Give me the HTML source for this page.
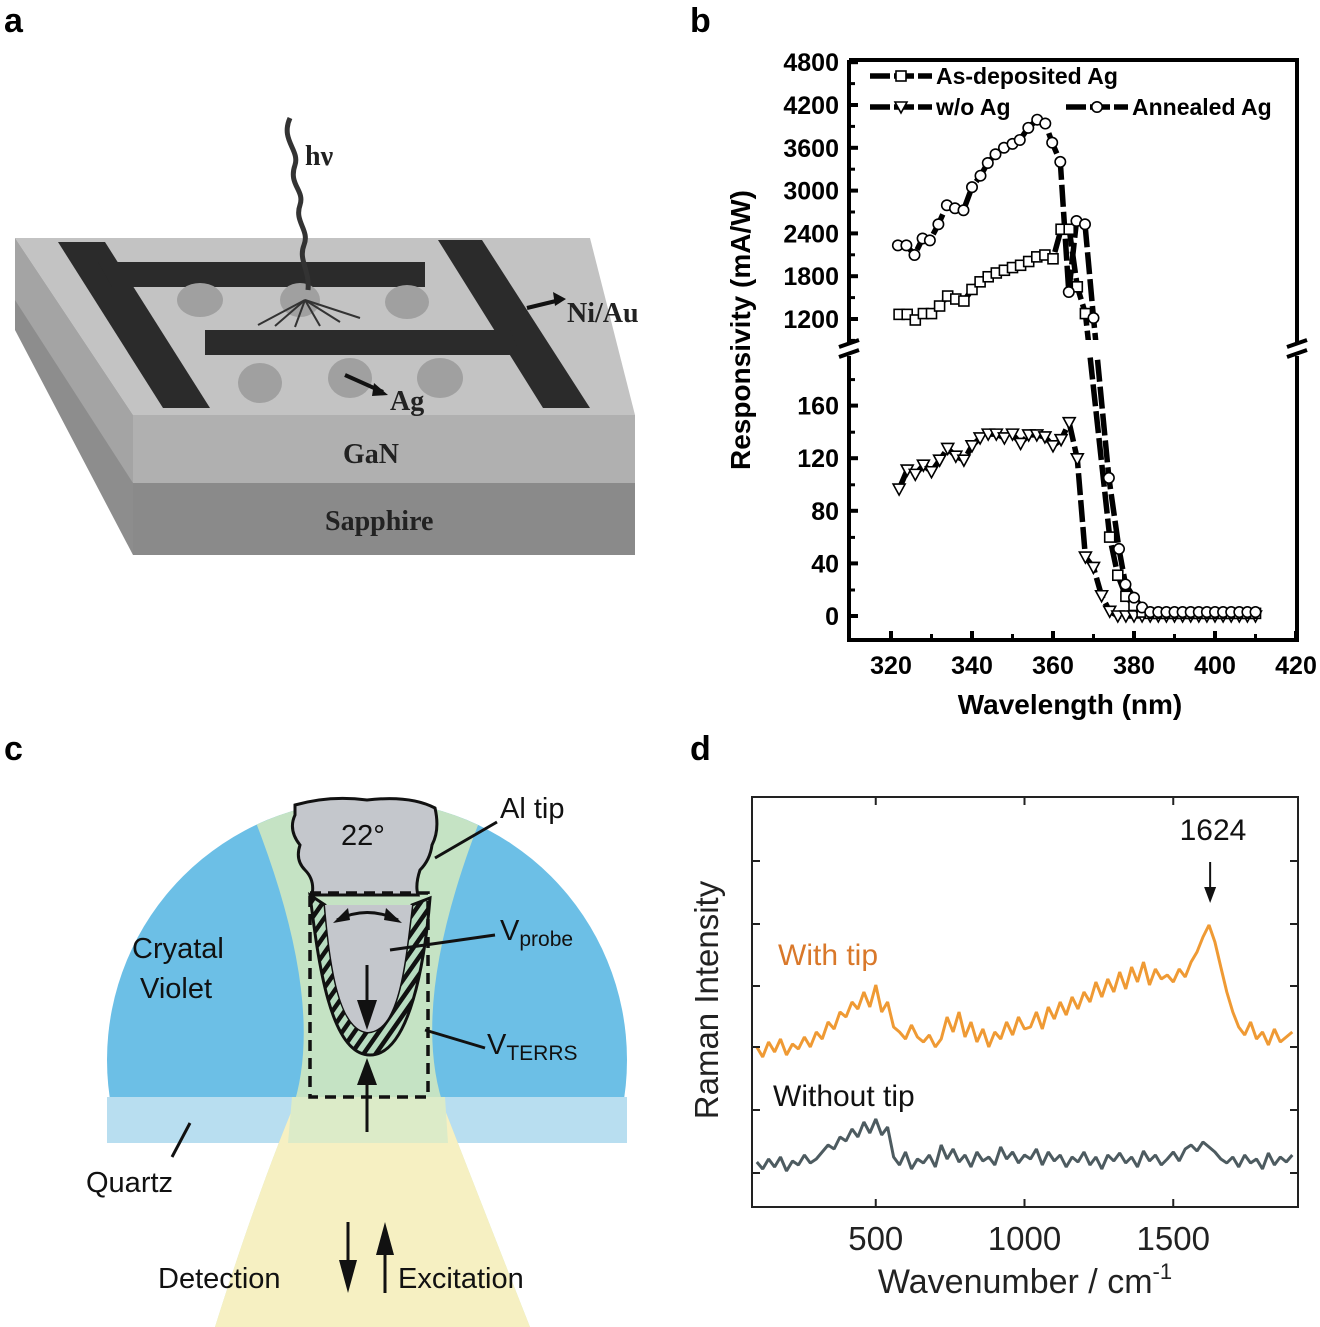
<!DOCTYPE html>
<html><head><meta charset="utf-8"><style>
html,body{margin:0;padding:0;background:#fff}
svg{display:block}
</style></head><body>
<svg id="fig" width="1320" height="1327" viewBox="0 0 1320 1327" xmlns="http://www.w3.org/2000/svg">
<defs>
<pattern id="hatch" patternUnits="userSpaceOnUse" width="10" height="10" patternTransform="rotate(35)">
<rect width="10" height="10" fill="#b7dcc0"/><rect width="4.5" height="10" fill="#111"/>
</pattern>
<clipPath id="dome"><path d="M107,1143 L107,1000 A260,260 0 0 1 627,1000 L627,1143 Z"/></clipPath>
<clipPath id="coneclip"><path d="M107,1143 L107,1060 A260,260 0 0 1 627,1060 L627,1097 L640,1097 L640,1327 L100,1327 L100,1097 Z"/></clipPath>
</defs>
<g font-family="Liberation Sans, sans-serif" font-weight="bold" font-size="34" fill="#000">
<text x="4" y="32">a</text>
<text x="690" y="32">b</text>
<text x="4" y="760">c</text>
<text x="690" y="760">d</text>
</g>

<!-- PANEL A -->
<g>
<polygon points="15,238 15,330 133,555 133,415" fill="#8d8d8d"/>
<polygon points="15,238 133,415 133,483 15,300" fill="#a4a4a4"/>
<polygon points="15,238 590,238 635,415 133,415" fill="#c3c3c3"/>
<rect x="133" y="415" width="502" height="68" fill="#b0b0b0"/>
<rect x="133" y="483" width="502" height="72" fill="#8a8a8a"/>
<g fill="#2b2b2b">
<polygon points="58,242 105,242 210,408 163,408"/>
<polygon points="98,262 425,262 425,287 112,287"/>
<polygon points="438,240 482,240 590,408 543,408"/>
<polygon points="205,330 510,330 520,355 205,355"/>
</g>
<g fill="#a0a0a0">
<ellipse cx="200" cy="300" rx="23" ry="17"/><ellipse cx="300" cy="300" rx="20" ry="17"/><ellipse cx="407" cy="302" rx="22" ry="17"/>
<ellipse cx="260" cy="383" rx="22" ry="20"/><ellipse cx="350" cy="378" rx="22" ry="20"/><ellipse cx="440" cy="378" rx="23" ry="20"/>
</g>
<path d="M290,118 C280,140 300,150 295,165 C288,185 305,190 300,205 C294,222 310,230 304,245 C298,260 310,270 308,290" fill="none" stroke="#333" stroke-width="5"/>
<g stroke="#333" stroke-width="2">
<line x1="305" y1="300" x2="258" y2="325"/><line x1="305" y1="300" x2="275" y2="326"/><line x1="305" y1="300" x2="295" y2="327"/><line x1="305" y1="300" x2="320" y2="326"/><line x1="305" y1="300" x2="340" y2="322"/><line x1="305" y1="300" x2="360" y2="318"/>
</g>
<line x1="345" y1="375" x2="383" y2="392" stroke="#111" stroke-width="4"/>
<polygon points="388,395 374,383 372,396" fill="#111"/>
<line x1="527" y1="308" x2="560" y2="300" stroke="#111" stroke-width="4"/>
<polygon points="566,299 553,292 555,306" fill="#111"/>
<g font-family="Liberation Serif, serif" font-weight="bold" fill="#222" font-size="28">
<text x="305" y="165">hν</text>
<text x="567" y="322">Ni/Au</text>
<text x="390" y="410">Ag</text>
<text x="343" y="463">GaN</text>
<text x="325" y="530">Sapphire</text>
</g>
</g>

<!-- PANEL C -->
<g>
<g clip-path="url(#dome)">
<circle cx="367" cy="1060" r="260" fill="#6cbfe6"/>
<rect x="100" y="1097" width="540" height="46" fill="#b8def0"/>
</g>
<g clip-path="url(#coneclip)">
<path d="M245,795 Q330,1000 292,1110 Q255,1200 215,1327 L530,1327 Q480,1200 445,1110 Q405,1000 490,795 Z" fill="#c5e3c4"/>
<path d="M292,1110 Q255,1200 215,1327 L530,1327 Q480,1200 445,1110 Z" fill="#f6f0c2"/>
<path d="M292,1097 L445,1097 L448,1143 L288,1143 Z" fill="#dcebc8"/>
</g>
<path d="M295,805 Q330,795 367,800 Q410,795 435,808 Q440,830 432,845 Q430,860 420,870 Q415,885 418,895 L312,895 Q315,880 305,870 Q295,860 300,845 Q288,830 295,815 Z" fill="#c4c7cc" stroke="#111" stroke-width="3"/>
<path d="M310,895 C318,960 330,1055 370,1055 C410,1055 425,960 430,898 L412,905 C405,960 400,1030 368,1032 C338,1030 330,960 325,905 Z" fill="url(#hatch)" stroke="#111" stroke-width="3"/>
<path d="M325,905 C330,960 338,1030 368,1032 C400,1030 405,960 412,905 Z" fill="#c4c7cc"/>
<rect x="310" y="893" width="118" height="204" fill="none" stroke="#111" stroke-width="3.5" stroke-dasharray="11,7"/>
<path d="M337,920 Q367,905 398,920" fill="none" stroke="#111" stroke-width="3"/>
<polygon points="333,923 348,908 350,920" fill="#111"/><polygon points="402,923 386,908 384,920" fill="#111"/>
<line x1="367" y1="965" x2="367" y2="1005" stroke="#111" stroke-width="3"/><polygon points="357,1000 377,1000 367,1030" fill="#111"/>
<line x1="367" y1="1132" x2="367" y2="1080" stroke="#111" stroke-width="3"/><polygon points="357,1085 377,1085 367,1058" fill="#111"/>
<g stroke="#111" stroke-width="3">
<line x1="435" y1="858" x2="497" y2="822"/><line x1="390" y1="950" x2="495" y2="935"/><line x1="425" y1="1030" x2="485" y2="1048"/><line x1="190" y1="1123" x2="172" y2="1157"/>
</g>
<line x1="348" y1="1222" x2="348" y2="1270" stroke="#111" stroke-width="3"/><polygon points="339,1260 357,1260 348,1293" fill="#111"/>
<line x1="385" y1="1293" x2="385" y2="1245" stroke="#111" stroke-width="3"/><polygon points="376,1255 394,1255 385,1222" fill="#111"/>
<g font-family="Liberation Sans, sans-serif" font-size="29" fill="#111">
<text x="500" y="818">Al tip</text>
<text x="341" y="845">22°</text>
<text x="132" y="958">Cryatal</text>
<text x="140" y="998">Violet</text>
<text x="500" y="940">V<tspan font-size="21" dy="6">probe</tspan></text>
<text x="487" y="1054">V<tspan font-size="21" dy="6">TERRS</tspan></text>
<text x="86" y="1192">Quartz</text>
<text x="158" y="1288">Detection</text>
<text x="398" y="1288">Excitation</text>
</g>
</g>

<g id="panelB"></g>
<g id="panelD"></g>
</svg>
<script>
// ===== Panel b data =====
const wlAsDep = [322,324,326,328,330,332,334,336,338,340,342,344,346,348,350,352,354,356,358,360,362,364,366,368,374,376,378,380,382,384,386,388,390,392,394,396,398,400,402,404,406,408,410];
const rAsDep  = [1265,1265,1186,1276,1276,1382,1522,1480,1452,1614,1721,1792,1845,1883,1921,1953,2006,2071,2097,2044,2458,2458,1651,1276,60,31,15,8,3,2,2,2,2,2,2,2,2,2,2,2,2,2,2];
const wlAnn = [321.7,323.8,325.8,327.8,329.6,331.7,333.8,335.8,337.9,340,342.1,343.9,345.8,347.9,350,351.8,353.9,356.1,358.1,359.8,361.8,363.9,365.8,367.9,370,373.8,376.3,377.9,380,382,384,386,388,390,392,394,396,398,400,402,404,406,408,410];
const rAnn  = [2232,2232,2097,2329,2302,2528,2795,2753,2725,3048,3209,3387,3510,3601,3655,3710,3880,3994,3940,3672,3402,1578,2574,2528,1214,105,51,24,14,6.5,3,3,3,3,3,3,3,3,3,3,3,3,3,3];
const wlNoAg = [322,324,326,328,330,332,334,336,338,340,342,344,346,348,350,352,354,356,358,360,362,364,366,368,370,372,374,376,378,380,382,384,386,388,390,392,394,396,398,400,402,404,406,408,410];
const rNoAg  = [96.5,111,107.7,114.7,109.7,118.5,127.4,121.5,118.5,129.4,135.4,138.3,138.3,135.4,138.3,131.2,137.7,137.7,136.2,129.4,134.1,147,119.5,44.8,36.9,15.4,3.6,0,0,0,0,0,0,0,0,0,0,0,0,0,0,0,0,0,0];
const xTicksB = [320,340,360,380,400,420];
const yTicksUpper = [1200,1800,2400,3000,3600,4200,4800];
const yTicksLower = [0,40,80,120,160];

// ===== Panel d data =====
const ramanStart = 100, ramanStep = 20;
const withTip = [160,150,165,155,168,152,163,158,170,160,175,
 168,185,178,195,190,
 205,198,215,200,222,195,205,
 180,175,168,182,170,165,172,160,
 168,190,175,195,170,185,165,178,
 160,175,168,185,172,190,178,
 180,195,178,200,188,205,192,210,
 198,215,205,225,210,228,215,
 235,218,240,225,245,222,238,228,
 232,225,238,230,245,
 255,270,282,265,240,215,
 195,180,172,185,168,175,162,178,165,170,175];
const withoutTip = [45,38,48,40,50,36,46,42,52,44,48,
 55,62,58,70,66,
 78,70,85,74,88,72,80,
 50,42,55,38,48,44,52,40,
 62,48,58,45,52,40,55,46,
 50,42,60,48,55,44,52,
 48,58,42,55,46,52,40,50,
 45,55,42,50,38,52,46,
 54,44,50,40,56,46,52,42,
 48,55,46,58,62,
 56,65,60,55,48,44,
 50,40,52,44,48,38,54,42,50,45,52];
const xTicksD = [500,1000,1500];
const yTicksD = [34,97,160,221,283,346];

const NS = 'http://www.w3.org/2000/svg';
function mk(tag, attrs, parent){const e=document.createElementNS(NS,tag);for(const k in attrs)e.setAttribute(k,attrs[k]);parent.appendChild(e);return e;}

(function(){
const g = document.getElementById('panelB');
const L=849,R=1297,T=60,B=640;
const xB = w => 891 + (w-320)*4.05;
const yU = v => 319 - (v-1200)/600*42.8;
const yL = v => 616 - v*1.315;
const yB = v => v>=1000 ? yU(v) : yL(v);
function series(xs, ys, name){
  let d=''; xs.forEach((x,i)=>{d+=(i?'L':'M')+xB(x).toFixed(1)+','+yB(ys[i]).toFixed(1);});
  const p = mk('path',{d:d,fill:'none',stroke:'#000','stroke-width':5.5,'stroke-dasharray':'22,5','stroke-linejoin':'round'},g);
  
  
}
function markers(xs, ys, name, marker){
  const mg = mk('g',{fill:'#fff',stroke:'#000','stroke-width':1.6},g);
  
  
  xs.forEach((x,i)=>{
    const cx=xB(x), cy=yB(ys[i]); let m;
    if(marker==='sq') m=mk('rect',{x:cx-5,y:cy-5,width:10,height:10},mg);
    else if(marker==='ci') m=mk('circle',{cx:cx,cy:cy,r:5.2},mg);
    else m=mk('polygon',{points:`${cx-6},${cy-5} ${cx+6},${cy-5} ${cx},${cy+6}`},mg);
    
    
  });
}
series(wlAsDep,rAsDep,'as-deposited-ag');
series(wlAnn,rAnn,'annealed-ag');
series(wlNoAg,rNoAg,'without-ag');
const gap = mk('rect',{x:L+3,y:340,width:R-L-6,height:17,fill:'#fff'},g);


markers(wlNoAg,rNoAg,'without-ag','tri');
markers(wlAsDep,rAsDep,'as-deposited-ag','sq');
markers(wlAnn,rAnn,'annealed-ag','ci');
const fr = mk('path',{d:`M${L},${T}H${R}V343M${R},356V${B}H${L}V356M${L},343V${T}`,fill:'none',stroke:'#000','stroke-width':4},g);


[[L,349],[R,349]].forEach(([bx,by])=>{
  const br = mk('path',{d:`M${bx-10},${by-2}L${bx+10},${by-9}M${bx-10},${by+8}L${bx+10},${by+1}`,stroke:'#000','stroke-width':4},g);
  
  
});
const font = 'Liberation Sans, sans-serif';
xTicksB.forEach((t,i)=>{
  const x=xB(t);
  mk('line',{x1:x,y1:B,x2:x,y2:B-9,stroke:'#000','stroke-width':4},g);
  if(i<xTicksB.length-1) mk('line',{x1:x+40.5,y1:B,x2:x+40.5,y2:B-6,stroke:'#000','stroke-width':3},g);
  const tx = mk('text',{x:x,y:674,'text-anchor':'middle','font-family':font,'font-weight':'bold','font-size':25},g);
  tx.textContent=t;
  
  
});
yTicksUpper.forEach(t=>{
  const y=yU(t);
  mk('line',{x1:L,y1:y,x2:L+9,y2:y,stroke:'#000','stroke-width':4},g);
  mk('line',{x1:L,y1:y+21.4,x2:L+6,y2:y+21.4,stroke:'#000','stroke-width':3},g);
  const tx = mk('text',{x:839,y:y+9,'text-anchor':'end','font-family':font,'font-weight':'bold','font-size':25},g);
  tx.textContent=t;
  
  
});
yTicksLower.forEach(t=>{
  const y=yL(t);
  mk('line',{x1:L,y1:y,x2:L+9,y2:y,stroke:'#000','stroke-width':4},g);
  mk('line',{x1:L,y1:y-26,x2:L+6,y2:y-26,stroke:'#000','stroke-width':3},g);
  const tx = mk('text',{x:839,y:y+9,'text-anchor':'end','font-family':font,'font-weight':'bold','font-size':25},g);
  tx.textContent=t;
  
  
});
let t1 = mk('text',{x:1070,y:714,'text-anchor':'middle','font-family':font,'font-weight':'bold','font-size':28},g);
t1.textContent='Wavelength (nm)';


let t2 = mk('text',{x:0,y:0,transform:'translate(750,330) rotate(-90)','text-anchor':'middle','font-family':font,'font-weight':'bold','font-size':28},g);
t2.textContent='Responsivity (mA/W)';


function legend(x,y,label,marker,name){
  const lg = mk('g',{},g);
  
  
  mk('line',{x1:x,y1:y,x2:x+62,y2:y,stroke:'#000','stroke-width':5.5,'stroke-dasharray':'20,4'},lg);
  const cx=x+31;
  if(marker==='sq') mk('rect',{x:cx-5,y:y-5,width:10,height:10,fill:'#fff',stroke:'#000','stroke-width':1.6},lg);
  else if(marker==='ci') mk('circle',{cx:cx,cy:y,r:5.2,fill:'#fff',stroke:'#000','stroke-width':1.6},lg);
  else mk('polygon',{points:`${cx-6},${y-5} ${cx+6},${y-5} ${cx},${y+6}`,fill:'#fff',stroke:'#000','stroke-width':1.6},lg);
  const tx=mk('text',{x:x+66,y:y+8,'font-family':font,'font-weight':'bold','font-size':23},lg);
  tx.textContent=label;
}
legend(870,76,'As-deposited Ag','sq','as-deposited');
legend(870,107,'w/o Ag','tri','without-ag');
legend(1066,107,'Annealed Ag','ci','annealed');
})();

(function(){
const g = document.getElementById('panelD');
const L=752,R=1298,T=797,B=1207;
const xD = w => 727 + w*0.2975;
const yD = v => B - v;
function line(vals,color,name){
  let d='';
  vals.forEach((v,i)=>{const x=xD(ramanStart+i*ramanStep), y=yD(v); d+=(i?'L':'M')+x.toFixed(1)+','+y.toFixed(1);});
  const p=mk('path',{d:d,fill:'none',stroke:color,'stroke-width':3,'stroke-linejoin':'bevel'},g);
  
  
}
line(withTip,'#ef9a34','with-tip-spectrum');
line(withoutTip,'#4d5b60','without-tip-spectrum');
const fr=mk('rect',{x:L,y:T,width:R-L,height:B-T,fill:'none',stroke:'#222','stroke-width':2},g);


const font='Liberation Sans, sans-serif';
xTicksD.forEach(t=>{
  const x=xD(t);
  mk('line',{x1:x,y1:B,x2:x,y2:B-8,stroke:'#222','stroke-width':2},g);
  mk('line',{x1:x,y1:T,x2:x,y2:T+8,stroke:'#222','stroke-width':2},g);
  const tx=mk('text',{x:x,y:1250,'text-anchor':'middle','font-family':font,'font-size':33,fill:'#222'},g);
  tx.textContent=t;
  
  
});
yTicksD.forEach(t=>{
  const y=yD(t);
  mk('line',{x1:L,y1:y,x2:L+8,y2:y,stroke:'#222','stroke-width':2},g);
  mk('line',{x1:R,y1:y,x2:R-8,y2:y,stroke:'#222','stroke-width':2},g);
});
let a=mk('text',{x:1025,y:1293,'text-anchor':'middle','font-family':font,'font-size':34,fill:'#222'},g);
a.innerHTML='Wavenumber / cm<tspan font-size="22" dy="-14">-1</tspan>';


let b=mk('text',{x:0,y:0,transform:'translate(718,1000) rotate(-90)','text-anchor':'middle','font-family':font,'font-size':33,fill:'#222'},g);
b.textContent='Raman Intensity';


let c=mk('text',{x:1213,y:840,'text-anchor':'middle','font-family':font,'font-size':30,fill:'#111'},g);
c.textContent='1624';


const px=xD(1624);
mk('line',{x1:px,y1:862,x2:px,y2:890,stroke:'#111','stroke-width':2},g);
mk('polygon',{points:`${px-6},887 ${px+6},887 ${px},903`,fill:'#111'},g);
let d=mk('text',{x:778,y:965,'font-family':font,'font-size':30,fill:'#d9782a'},g);
d.textContent='With tip';


let e=mk('text',{x:773,y:1106,'font-family':font,'font-size':30,fill:'#111'},g);
e.textContent='Without tip';


})();
</script>
</body></html>
